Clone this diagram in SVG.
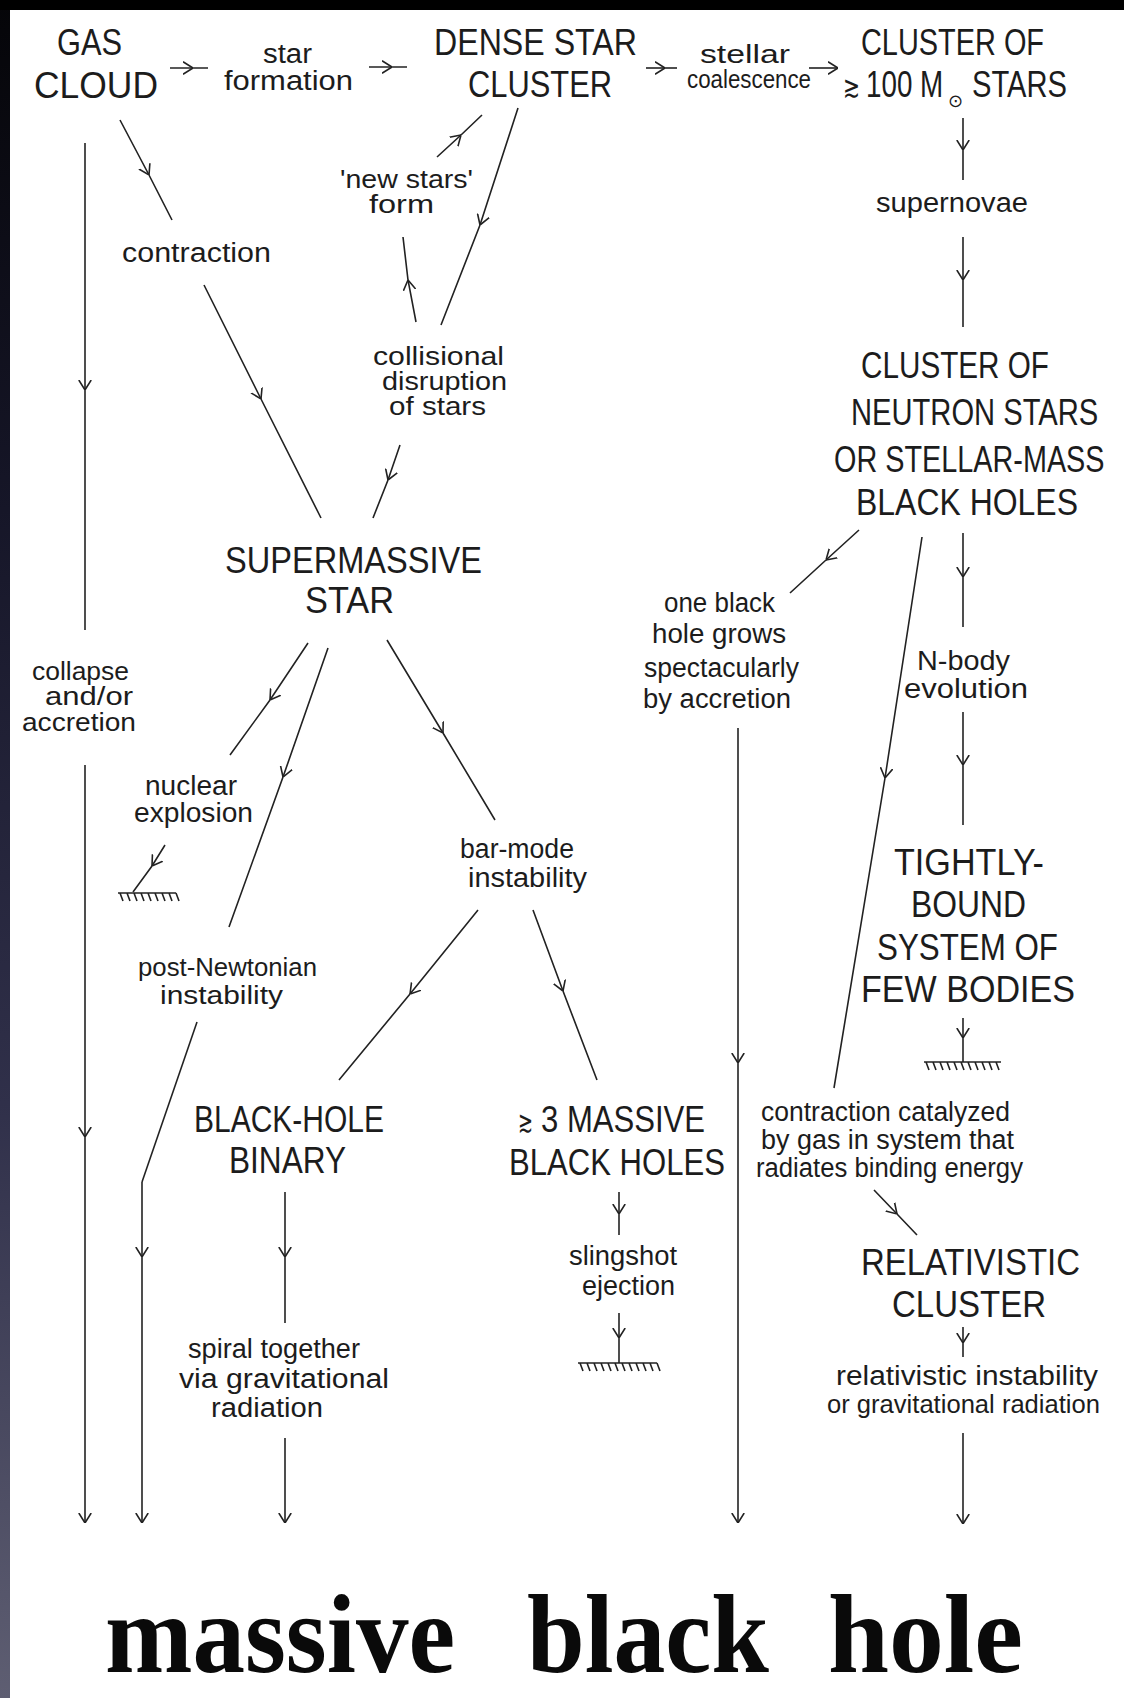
<svg xmlns="http://www.w3.org/2000/svg" width="1124" height="1698" viewBox="0 0 1124 1698">
<defs>
<linearGradient id="edge" x1="0" y1="0" x2="0" y2="1">
<stop offset="0" stop-color="#050508"/>
<stop offset="0.3" stop-color="#161628"/>
<stop offset="0.65" stop-color="#30304a"/>
<stop offset="1" stop-color="#5e5e72"/>
</linearGradient>
<marker id="ah" viewBox="0 0 10 14" refX="10" refY="7" markerWidth="10" markerHeight="14" markerUnits="userSpaceOnUse" orient="auto">
<path d="M0,0.8 L10,7 L0,13.2" fill="none" stroke="#222" stroke-width="1.6"/>
</marker>
<style>
.big{font-family:"Liberation Sans","DejaVu Sans",sans-serif;font-size:37px;fill:#1c1c1c}
.sm{font-family:"Liberation Sans","DejaVu Sans",sans-serif;font-size:27px;fill:#1c1c1c}
.tight{font-size:25px}
.sym{font-family:"DejaVu Sans","Liberation Sans",sans-serif;fill:#1c1c1c}
.title{font-family:"Liberation Serif","DejaVu Serif",serif;font-size:112px;font-weight:bold;fill:#0a0a0a}
.c{fill:none;stroke:#222;stroke-width:1.6}
.a{fill:none;stroke:#222;stroke-width:1.6;marker-mid:url(#ah)}
.e{fill:none;stroke:#222;stroke-width:1.6;marker-end:url(#ah)}
.me{fill:none;stroke:#222;stroke-width:1.6;marker-mid:url(#ah);marker-end:url(#ah)}
</style>
</defs>
<rect x="0" y="0" width="1124" height="1698" fill="#ffffff"/>
<rect x="0" y="0" width="10" height="1698" fill="url(#edge)"/>
<rect x="0" y="0" width="1124" height="10" fill="#000"/>

<g id="connectors">
<path class="a" d="M170,68 L193,68 L208,68"/>
<path class="a" d="M369,67 L392,67 L407,67"/>
<path class="a" d="M646,68 L665,68 L677,68"/>
<path class="e" d="M809,68 L838,68"/>
<path class="a" d="M963,118 L963,150 L963,180"/>
<path class="a" d="M963,237 L963,280 L963,327"/>
<path class="a" d="M120,120 L149,175 L172,220"/>
<path class="a" d="M204,285 L261,399 L321,518"/>
<path class="a" d="M518,108 L480,225 L441,325"/>
<path class="a" d="M416,322 L408,280 L403,237"/>
<path class="a" d="M437,157 L461,135 L482,115"/>
<path class="a" d="M400,445 L388,480 L373,518"/>
<path class="a" d="M85,143 L85,390 L85,630"/>
<path class="me" d="M85,765 L85,1137 L85,1523"/>
<path class="a" d="M308,643 L270,700 L230,755"/>
<path class="a" d="M165,845 L152,866 L133,892"/>
<path class="a" d="M328,648 L283,777 L229,927"/>
<path class="c" d="M197,1022 L142,1182"/>
<path class="me" d="M142,1182 L142,1257 L142,1523"/>
<path class="a" d="M387,640 L443,733 L495,820"/>
<path class="a" d="M478,910 L410,994 L339,1080"/>
<path class="a" d="M533,910 L563,991 L597,1080"/>
<path class="a" d="M285,1192 L285,1257 L285,1323"/>
<path class="e" d="M285,1438 L285,1523"/>
<path class="a" d="M619,1192 L619,1214 L619,1235"/>
<path class="a" d="M619,1313 L619,1338 L619,1363"/>
<path class="a" d="M859,530 L826,560 L790,593"/>
<path class="me" d="M738,728 L738,1063 L738,1523"/>
<path class="a" d="M922,537 L885,778 L834,1088"/>
<path class="a" d="M963,533 L963,577 L963,627"/>
<path class="a" d="M963,712 L963,765 L963,825"/>
<path class="a" d="M963,1018 L963,1038 L963,1062"/>
<path class="a" d="M874,1190 L897,1214 L917,1235"/>
<path class="a" d="M963,1327 L963,1343 L963,1357"/>
<path class="e" d="M963,1433 L963,1524"/>
</g>

<g id="ground-nuclear"><path class="c" d="M118,893 H176 M120,893 l3,8 m4,-8 l3,8 m4,-8 l3,8 m4,-8 l3,8 m4,-8 l3,8 m4,-8 l3,8 m4,-8 l3,8 m4,-8 l3,8 m4,-8 l3,8"/></g>
<g id="ground-slingshot"><path class="c" d="M578,1363 H657 M580,1363 l3,8 m4,-8 l3,8 m4,-8 l3,8 m4,-8 l3,8 m4,-8 l3,8 m4,-8 l3,8 m4,-8 l3,8 m4,-8 l3,8 m4,-8 l3,8 m4,-8 l3,8 m4,-8 l3,8 m4,-8 l3,8"/></g>
<g id="ground-few"><path class="c" d="M924,1062 H1001 M926,1062 l3,8 m4,-8 l3,8 m4,-8 l3,8 m4,-8 l3,8 m4,-8 l3,8 m4,-8 l3,8 m4,-8 l3,8 m4,-8 l3,8 m4,-8 l3,8 m4,-8 l3,8 m4,-8 l3,8"/></g>

<g id="gas-cloud">
<text class="big" x="57" y="55" textLength="65" lengthAdjust="spacingAndGlyphs">GAS</text>
<text class="big" x="34" y="98" textLength="124" lengthAdjust="spacingAndGlyphs">CLOUD</text>
</g>
<g id="star-formation">
<text class="sm" x="263" y="63" textLength="49" lengthAdjust="spacingAndGlyphs">star</text>
<text class="sm" x="224" y="90" textLength="129" lengthAdjust="spacingAndGlyphs">formation</text>
</g>
<g id="dense-star-cluster">
<text class="big" x="434" y="55" textLength="203" lengthAdjust="spacingAndGlyphs">DENSE STAR</text>
<text class="big" x="468" y="97" textLength="144" lengthAdjust="spacingAndGlyphs">CLUSTER</text>
</g>
<g id="stellar-coalescence">
<text class="sm tight" x="700" y="63" textLength="90" lengthAdjust="spacingAndGlyphs">stellar</text>
<text class="sm tight" x="687" y="88" textLength="124" lengthAdjust="spacingAndGlyphs">coalescence</text>
</g>
<g id="cluster-100">
<text class="big" x="861" y="55" textLength="183" lengthAdjust="spacingAndGlyphs">CLUSTER OF</text>
<text class="sym" x="843" y="97" font-size="30" textLength="17" lengthAdjust="spacingAndGlyphs">≳</text>
<text class="big" transform="translate(866 97) scale(0.75 1)" x="0" y="0" textLength="103" lengthAdjust="spacingAndGlyphs">100 M</text>
<text class="sym" x="948" y="107" font-size="18">⊙</text>
<text class="big" x="972" y="97" textLength="95" lengthAdjust="spacingAndGlyphs">STARS</text>
</g>
<g id="supernovae">
<text class="sm" x="876" y="212" textLength="152" lengthAdjust="spacingAndGlyphs">supernovae</text>
</g>
<g id="contraction">
<text class="sm" x="122" y="262" textLength="149" lengthAdjust="spacingAndGlyphs">contraction</text>
</g>
<g id="new-stars-form">
<text class="sm tight" x="340" y="188" textLength="133" lengthAdjust="spacingAndGlyphs">'new stars'</text>
<text class="sm tight" x="369" y="213" textLength="65" lengthAdjust="spacingAndGlyphs">form</text>
</g>
<g id="collisional-disruption">
<text class="sm tight" x="373" y="365" textLength="131" lengthAdjust="spacingAndGlyphs">collisional</text>
<text class="sm tight" x="382" y="390" textLength="125" lengthAdjust="spacingAndGlyphs">disruption</text>
<text class="sm tight" x="389" y="415" textLength="97" lengthAdjust="spacingAndGlyphs">of stars</text>
</g>
<g id="cluster-neutron">
<text class="big" x="861" y="378" textLength="188" lengthAdjust="spacingAndGlyphs">CLUSTER OF</text>
<text class="big" transform="translate(851 425) scale(0.78 1)" x="0" y="0" textLength="317" lengthAdjust="spacingAndGlyphs">NEUTRON STARS</text>
<text class="big" transform="translate(834 472) scale(0.76 1)" x="0" y="0" textLength="356" lengthAdjust="spacingAndGlyphs">OR STELLAR-MASS</text>
<text class="big" x="856" y="515" textLength="222" lengthAdjust="spacingAndGlyphs">BLACK HOLES</text>
</g>
<g id="supermassive-star">
<text class="big" x="225" y="573" textLength="257" lengthAdjust="spacingAndGlyphs">SUPERMASSIVE</text>
<text class="big" x="305" y="613" textLength="89" lengthAdjust="spacingAndGlyphs">STAR</text>
</g>
<g id="collapse-accretion">
<text class="sm tight" x="32" y="680" textLength="97" lengthAdjust="spacingAndGlyphs">collapse</text>
<text class="sm tight" x="45" y="705" textLength="88" lengthAdjust="spacingAndGlyphs">and/or</text>
<text class="sm tight" x="22" y="731" textLength="114" lengthAdjust="spacingAndGlyphs">accretion</text>
</g>
<g id="one-black-hole">
<text class="sm" x="664" y="612" textLength="111" lengthAdjust="spacingAndGlyphs">one black</text>
<text class="sm" x="652" y="643" textLength="134" lengthAdjust="spacingAndGlyphs">hole grows</text>
<text class="sm" x="644" y="677" textLength="155" lengthAdjust="spacingAndGlyphs">spectacularly</text>
<text class="sm" x="643" y="708" textLength="148" lengthAdjust="spacingAndGlyphs">by accretion</text>
</g>
<g id="n-body">
<text class="sm" x="917" y="670" textLength="93" lengthAdjust="spacingAndGlyphs">N-body</text>
<text class="sm" x="904" y="698" textLength="124" lengthAdjust="spacingAndGlyphs">evolution</text>
</g>
<g id="nuclear-explosion">
<text class="sm" x="145" y="795" textLength="92" lengthAdjust="spacingAndGlyphs">nuclear</text>
<text class="sm" x="134" y="822" textLength="119" lengthAdjust="spacingAndGlyphs">explosion</text>
</g>
<g id="bar-mode">
<text class="sm" x="460" y="858" textLength="114" lengthAdjust="spacingAndGlyphs">bar-mode</text>
<text class="sm" x="468" y="887" textLength="119" lengthAdjust="spacingAndGlyphs">instability</text>
</g>
<g id="tightly-bound">
<text class="big" x="894" y="875" textLength="150" lengthAdjust="spacingAndGlyphs">TIGHTLY-</text>
<text class="big" x="911" y="917" textLength="115" lengthAdjust="spacingAndGlyphs">BOUND</text>
<text class="big" x="877" y="960" textLength="181" lengthAdjust="spacingAndGlyphs">SYSTEM OF</text>
<text class="big" x="861" y="1002" textLength="214" lengthAdjust="spacingAndGlyphs">FEW BODIES</text>
</g>
<g id="post-newtonian">
<text class="sm tight" x="138" y="976" textLength="179" lengthAdjust="spacingAndGlyphs">post-Newtonian</text>
<text class="sm tight" x="160" y="1004" textLength="123" lengthAdjust="spacingAndGlyphs">instability</text>
</g>
<g id="black-hole-binary">
<text class="big" x="194" y="1132" textLength="190" lengthAdjust="spacingAndGlyphs">BLACK-HOLE</text>
<text class="big" x="229" y="1173" textLength="117" lengthAdjust="spacingAndGlyphs">BINARY</text>
</g>
<g id="three-massive">
<text class="sym" x="518" y="1132" font-size="30" textLength="15" lengthAdjust="spacingAndGlyphs">≳</text>
<text class="big" x="541" y="1132" textLength="164" lengthAdjust="spacingAndGlyphs">3 MASSIVE</text>
<text class="big" x="509" y="1175" textLength="216" lengthAdjust="spacingAndGlyphs">BLACK HOLES</text>
</g>
<g id="contraction-catalyzed">
<text class="sm" x="761" y="1121" textLength="249" lengthAdjust="spacingAndGlyphs">contraction catalyzed</text>
<text class="sm" x="761" y="1149" textLength="253" lengthAdjust="spacingAndGlyphs">by gas in system that</text>
<text class="sm" x="756" y="1177" textLength="267" lengthAdjust="spacingAndGlyphs">radiates binding energy</text>
</g>
<g id="slingshot">
<text class="sm" x="569" y="1265" textLength="108" lengthAdjust="spacingAndGlyphs">slingshot</text>
<text class="sm" x="582" y="1295" textLength="93" lengthAdjust="spacingAndGlyphs">ejection</text>
</g>
<g id="relativistic-cluster">
<text class="big" x="861" y="1275" textLength="219" lengthAdjust="spacingAndGlyphs">RELATIVISTIC</text>
<text class="big" x="892" y="1317" textLength="154" lengthAdjust="spacingAndGlyphs">CLUSTER</text>
</g>
<g id="spiral-together">
<text class="sm" x="188" y="1358" textLength="172" lengthAdjust="spacingAndGlyphs">spiral together</text>
<text class="sm" x="179" y="1388" textLength="210" lengthAdjust="spacingAndGlyphs">via gravitational</text>
<text class="sm" x="211" y="1417" textLength="112" lengthAdjust="spacingAndGlyphs">radiation</text>
</g>
<g id="relativistic-instability">
<text class="sm" x="836" y="1385" textLength="262" lengthAdjust="spacingAndGlyphs">relativistic instability</text>
<text class="sm tight" x="827" y="1413" textLength="273" lengthAdjust="spacingAndGlyphs">or gravitational radiation</text>
</g>
<g id="massive-black-hole">
<text class="title" x="105" y="1672" textLength="350" lengthAdjust="spacingAndGlyphs">massive</text>
<text class="title" x="527" y="1672" textLength="242" lengthAdjust="spacingAndGlyphs">black</text>
<text class="title" x="828" y="1672" textLength="195" lengthAdjust="spacingAndGlyphs">hole</text>
</g>
</svg>
